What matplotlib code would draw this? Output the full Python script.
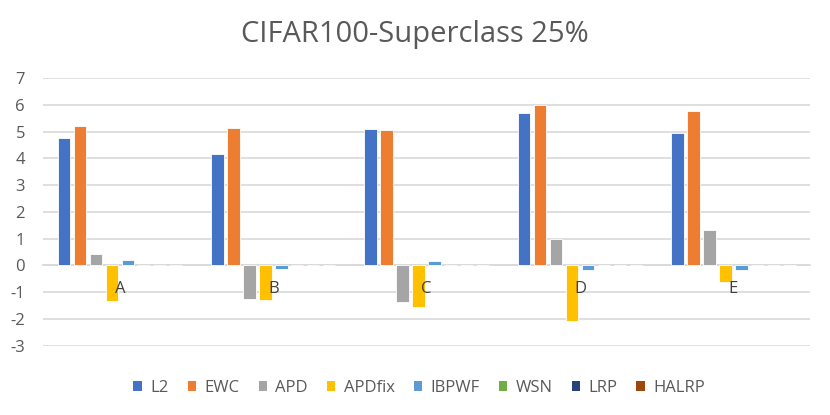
import numpy as np
import matplotlib.pyplot as plt
from matplotlib.patches import Patch

categories = ['A', 'B', 'C', 'D', 'E']
methods = ['L2', 'EWC', 'APD', 'APDfix', 'IBPWF', 'WSN', 'LRP', 'HALRP']
l2 = [4.77, 4.17, 5.11, 5.69, 4.94]
ewc = [5.22, 5.13, 5.06, 5.98, 5.76]
apd = [0.42, -1.24, -1.35, 1.00, 1.32]
apdfix = [-1.34, -1.29, -1.54, -2.07, -0.61]
ibpwf = [0.19, -0.15, 0.16, -0.16, -0.16]
wsn = [0.0, 0.0, 0.0, 0.0, 0.0]
lrp = [0.0, 0.0, 0.0, 0.0, 0.0]
halrp = [0.0, 0.0, 0.0, 0.0, 0.0]
series = [l2, ewc, apd, apdfix, ibpwf, wsn, lrp, halrp]
colors = ['#4472C4', '#ED7D31', '#A5A5A5', '#FFC000', '#5B9BD5',
          '#70AD47', '#264478', '#9E480E']

plt.rcParams['font.family'] = ['Open Sans', 'DejaVu Sans']
plt.rcParams['axes.unicode_minus'] = False

fig = plt.figure(figsize=(8.3, 4.15), dpi=100)
ax = fig.add_axes([0.052, 0.167, 0.924, 0.645])

x = np.arange(len(categories))
step = 0.104
width = 0.082
for i, (vals, c) in enumerate(zip(series, colors)):
    ax.bar(x + (i - 3.5) * step, vals, width, color=c,
           edgecolor='white', linewidth=0.6, zorder=3)

ax.set_xlim(-0.5, len(categories) - 0.5)
ax.set_ylim(-3, 7)
ax.set_yticks(range(-3, 8))
ax.yaxis.grid(True, color='#D9D9D9', linewidth=1.2, zorder=0)
ax.tick_params(axis='y', length=0, pad=13, labelsize=12, labelcolor='#595959')

ax.spines['bottom'].set_position(('data', 0))
ax.spines['bottom'].set_color('#D9D9D9')
ax.spines['bottom'].set_linewidth(1.2)
for s in ['top', 'right', 'left']:
    ax.spines[s].set_visible(False)
ax.set_xticks([])

# category labels sit just under the zero line, drawn over the bars
for xi, lab in zip(x, categories):
    ax.annotate(lab, (xi, 0), xytext=(0, -17), textcoords='offset points',
                ha='center', va='center', fontsize=12, color='#404040',
                zorder=5)

fig.suptitle('CIFAR100-Superclass 25%', y=0.952, fontsize=21, color='#595959')

handles = [Patch(facecolor=c, edgecolor='none') for c in colors]
fig.legend(handles, methods, loc='center', bbox_to_anchor=(0.505, 0.065),
           ncol=8, frameon=False, fontsize=12, handlelength=0.5,
           handleheight=0.5, handletextpad=0.5, columnspacing=1.15,
           labelcolor='#595959')

fig.savefig('out.png', dpi=100)
